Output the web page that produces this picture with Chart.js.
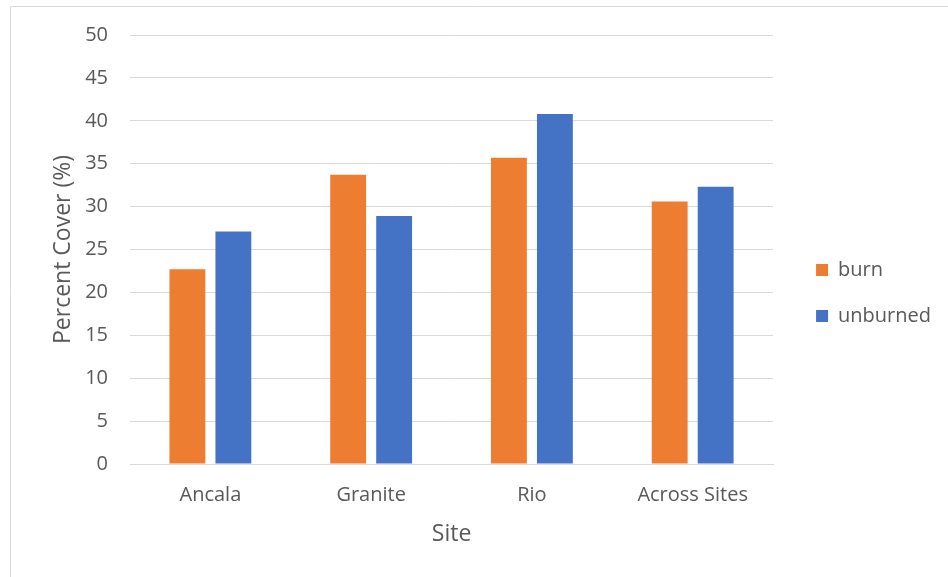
<!DOCTYPE html>
<html>
<head>
<meta charset="utf-8">
<script src="https://cdn.jsdelivr.net/npm/chart.js@4/dist/chart.umd.min.js"></script>
<style>
  html, body { margin: 0; padding: 0; background: #ffffff; }
  #wrap { width: 948px; height: 577px; position: relative; }
</style>
</head>
<body>
<div id="wrap"><canvas id="c" width="948" height="577"></canvas></div>
<script>
const categories = ['Ancala', 'Granite', 'Rio', 'Across Sites'];
const burnValues = [22.7, 33.7, 35.7, 30.6];
const unburnedValues = [27.1, 28.9, 40.8, 32.3];
const seriesNames = ['burn', 'unburned'];
const yTitle = 'Percent Cover (%)';
const xTitle = 'Site';

const TEXT = '#595959';
const GRID = '#d9d9d9';
const FONT = "'Open Sans', 'DejaVu Sans', sans-serif";

const borderPlugin = {
  id: 'frame',
  beforeDraw(chart) {
    const ctx = chart.ctx;
    ctx.save();
    ctx.fillStyle = '#ffffff';
    ctx.fillRect(0, 0, chart.width, chart.height);
    ctx.strokeStyle = GRID;
    ctx.lineWidth = 1;
    ctx.beginPath();
    ctx.moveTo(10.5, chart.height);
    ctx.lineTo(10.5, 6.5);
    ctx.lineTo(chart.width, 6.5);
    ctx.stroke();
    ctx.restore();
  }
};

new Chart(document.getElementById('c'), {
  type: 'bar',
  data: {
    labels: categories,
    datasets: [
      { label: seriesNames[0], data: burnValues, backgroundColor: '#ED7D31', yAxisID: 'y' },
      { label: seriesNames[1], data: unburnedValues, backgroundColor: '#4472C4', yAxisID: 'y' }
    ]
  },
  options: {
    responsive: false,
    animation: false,
    devicePixelRatio: 1,
    categoryPercentage: 0.572,
    barPercentage: 0.78,
    layout: { padding: { top: 35, bottom: 26, left: 0, right: 7 } },
    plugins: {
      tooltip: { enabled: false },
      legend: {
        position: 'right',
        labels: {
          boxWidth: 12,
          boxHeight: 12,
          padding: 26,
          color: TEXT,
          font: { family: FONT, size: 20 }
        }
      }
    },
    scales: {
      x: {
        grid: { display: false, drawTicks: false },
        border: { display: true, color: GRID, width: 1 },
        ticks: { color: TEXT, font: { family: FONT, size: 20 }, padding: 19 },
        title: { display: true, text: xTitle, color: TEXT, font: { family: FONT, size: 23 }, padding: { top: 0, bottom: 3 } },
        afterFit(s) { s.height = 577 - 26 - 464; }
      },
      y: {
        min: 0, max: 50,
        ticks: { stepSize: 5, color: TEXT, font: { family: FONT, size: 20 }, padding: 22 },
        grid: { color: GRID, lineWidth: 1, drawTicks: false },
        border: { display: false },
        title: { display: true, text: yTitle, color: TEXT, font: { family: FONT, size: 23 }, padding: { top: 50, bottom: 0 } },
        afterFit(s) { s.width = 130; }
      },
      gap: {
        position: 'right',
        display: true,
        min: 0, max: 1,
        grid: { display: false, drawTicks: false },
        border: { display: false },
        ticks: { display: false },
        afterFit(s) { s.width = 17; }
      }
    }
  },
  plugins: [borderPlugin]
});
</script>
</body>
</html>
